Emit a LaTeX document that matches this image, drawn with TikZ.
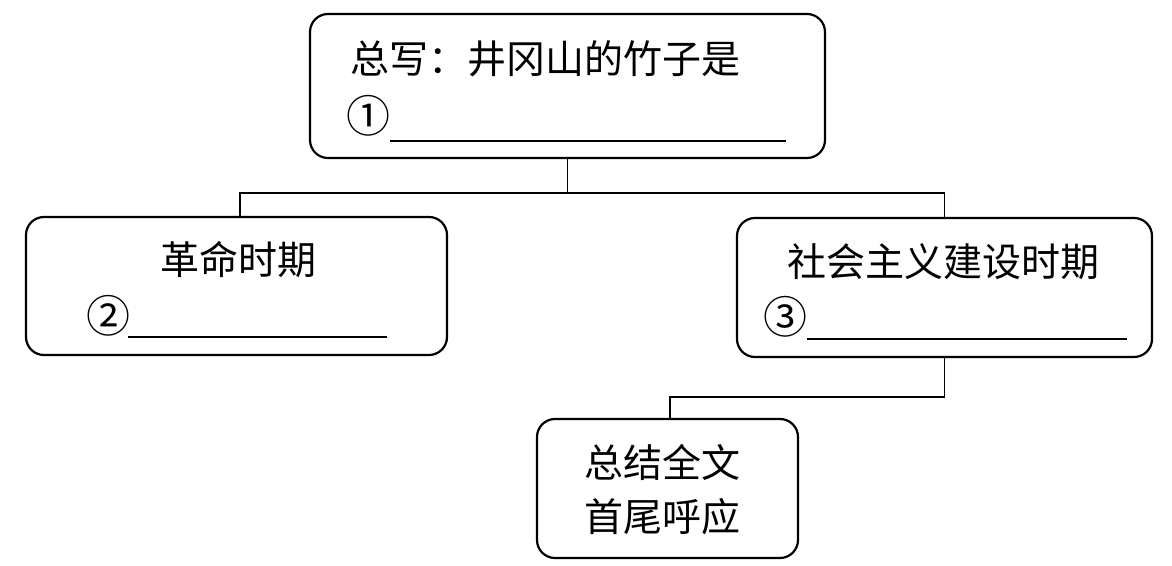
\documentclass[tikz,border=0pt]{standalone}
\usepackage{fontspec}
\setmainfont{Noto Sans CJK SC}
\usetikzlibrary{positioning, calc}

\begin{document}
\begin{tikzpicture}[
    x=0.5pt, y=-0.5pt,
    box/.style={rectangle, draw, rounded corners=9pt, line width=1.1pt, inner sep=0pt, outer sep=0pt},
    txt/.style={anchor=west, inner sep=0pt, font=\fontsize{19.5}{23}\selectfont},
    num/.style={txt, font=\fontsize{22}{24}\selectfont},
    blank/.style={line width=0.8pt},
    conn/.style={line width=0.8pt}
]
    \useasboundingbox (0,0) rectangle (1172,566);

    % Main box
    \node[box, minimum width=257.5pt, minimum height=72pt] (total) at (567.5,86) {};

    % Two periods
    \node[box, minimum width=210.5pt, minimum height=69pt, below=29.5pt of total, xshift=-165.5pt] (war) {};
    \node[box, minimum width=207.5pt, minimum height=69.5pt, below=30pt of total, xshift=188.5pt] (build) {};

    % Ending box
    \node[box, minimum width=130.5pt, minimum height=69.5pt, below=31pt of build, xshift=-138.5pt] (ending) {};

    % Texts
    \node[txt] (totalA) at (350,59) {总写：井冈山的竹子是};
    \node[num] (totalB) at (346,116) {①};
    \draw[blank] (390,141) -- (786,141);

    \node[txt] (warA) at (160,260) {革命时期};
    \node[num] (warB) at (86,316) {②};
    \draw[blank] (128,337) -- (387,337);

    \node[txt] (buildA) at (787,262) {社会主义建设时期};
    \node[num] (buildB) at (763,317) {③};
    \draw[blank] (807,339) -- (1127,339);

    \node[txt] (endingA) at (584,462) {总结全文};
    \node[txt] (endingB) at (584,517) {首尾呼应};

    % Connectors
    \draw[conn] (total.south) -- ++(0,35) coordinate (fork);
    \draw[conn] (fork) -| ([xshift=1.75pt]war.north);
    \draw[conn] (fork) -| (build.north);
    \draw[conn] (build.south) -- ++(0,40) -| ([xshift=1.25pt]ending.north);

\end{tikzpicture}
\end{document}
